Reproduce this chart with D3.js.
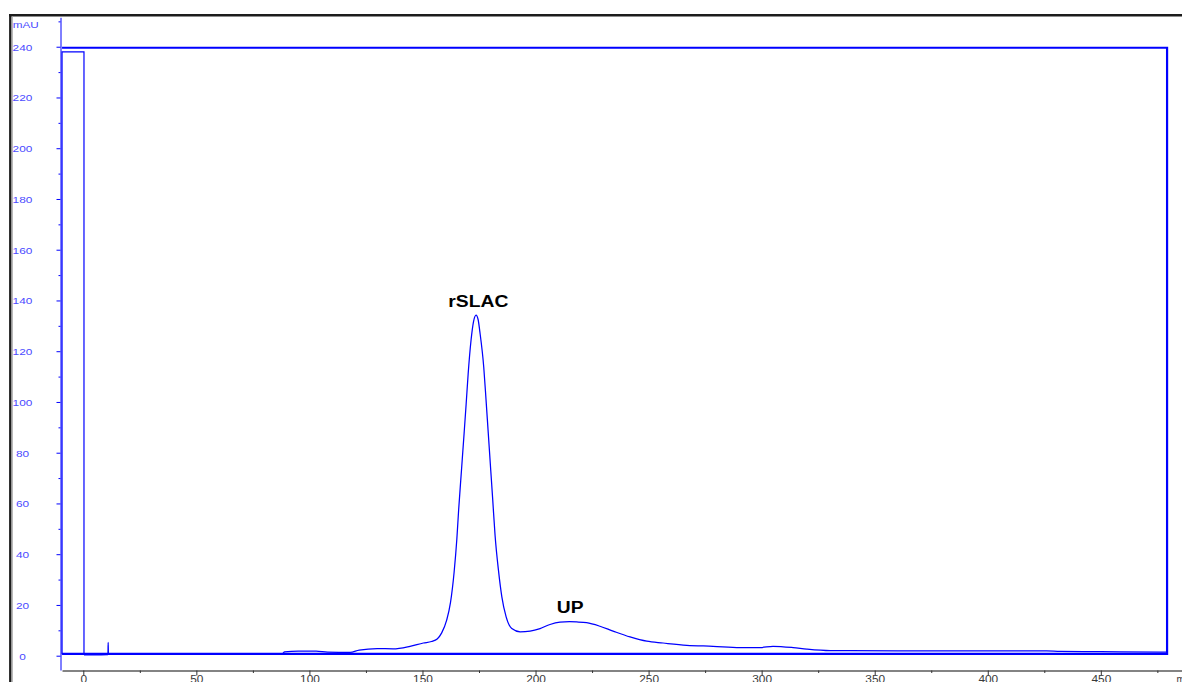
<!DOCTYPE html>
<html>
<head>
<meta charset="utf-8">
<script src="https://cdn.jsdelivr.net/npm/d3@7"></script>
<style>
  html, body { margin: 0; padding: 0; background: #fff; }
  svg { display: block; font-family: "Liberation Sans", Arial, sans-serif; }
</style>
</head>
<body>
<svg id="chart" width="1182" height="682"></svg>
<script>
// Retention time (min) and absorbance (mAU) of the UV trace
const time = [0.3, 5, 10.9, 11.0, 11.1, 20, 40, 60, 80, 88, 89, 95, 103, 108, 118, 122, 130, 137,
  144.5, 150.4, 154, 156.5, 158.5, 160.7, 162.4, 164, 165.2, 166, 167.2, 168.4, 169.3, 170.2,
  171.5, 172.6, 173.7, 174.6, 175.4, 177.1, 178.1, 179, 180.2, 181.1, 182.1, 183.6, 185.1, 187,
  189.5, 193.2, 197.6, 202, 206.4, 210.8, 215, 218.2, 222.6, 228.5, 234.3, 241.8, 249.2, 256.4,
  266.9, 278.5, 290.4, 299.3, 305, 313.9, 320, 330.3, 360, 400, 426, 432, 450, 476, 479];
const absorbance = [0.3, 0.3, 0.4, 5.2, 0.7, 0.7, 0.6, 0.6, 0.5, 0.7, 1.5, 1.8, 1.8, 1.4, 1.3, 2.2, 2.8, 2.7,
  3.7, 5.0, 5.6, 6.6, 9.0, 14.0, 21.0, 33.0, 46.0, 57.5, 72.5, 87.5, 99.0, 111.0,
  124.5, 131.8, 134.2, 132.5, 127.5, 113.7, 101.0, 89.0, 73.0, 61.0, 47.5, 33.7, 23.2, 15.3,
  10.7, 9.4, 9.7, 10.7, 12.3, 13.2, 13.4, 13.3, 13.0, 11.6, 9.7, 7.4, 5.7, 5.0,
  4.1, 3.7, 3.2, 3.2, 3.7, 3.2, 2.6, 2.0, 1.9, 1.9, 1.9, 1.7, 1.6, 1.4, 1.4];

// Over-range signal before injection
const injectTime = [-9.4, -9.4, 0.3, 0.3];
const injectValue = [0.6, 238.0, 238.0, 0.3];

// Second channel: full-scale box trace
const channelTime = [-9.4, 479.3, 479.3, -9.4];
const channelValue = [239.6, 239.6, 0.7, 0.7];

// Axis ticks
const yTicks = [0, 20, 40, 60, 80, 100, 120, 140, 160, 180, 200, 220, 240];
const yMinor = [10, 30, 50, 70, 90, 110, 130, 150, 170, 190, 210, 230, 250];
const xTicks = [0, 50, 100, 150, 200, 250, 300, 350, 400, 450];
const xMinor = [25, 75, 125, 175, 225, 275, 325, 375, 425, 475];

// Peak annotations
const peakNames = ["rSLAC", "UP"];
const peakTimes = [174.7, 215.3];
const peakLabelValues = [137.5, 17.0];

const svg = d3.select("#chart");
const x = d3.scaleLinear().domain([-9.42, 485.9]).range([62, 1182]);
const y = d3.scaleLinear().domain([-5.64, 251.6]).range([670, 17.3]);

const BLUE = "#0000ff";
const LABEL_BLUE = "#4b4bff";

// window frame
svg.append("line").attr("x1", 9).attr("x2", 1182).attr("y1", 15.2).attr("y2", 15.2)
  .attr("stroke", "#1c1c1c").attr("stroke-width", 2.4);
svg.append("line").attr("x1", 10.3).attr("x2", 10.3).attr("y1", 14).attr("y2", 682)
  .attr("stroke", "#1c1c1c").attr("stroke-width", 2.4);
svg.append("line").attr("x1", 12.2).attr("x2", 12.2).attr("y1", 16.5).attr("y2", 682)
  .attr("stroke", "#a8a8a8").attr("stroke-width", 1.2);

// y axis
const yAxis = svg.append("g").attr("transform", "translate(60.5,0)");
yAxis.call(d3.axisLeft(y).tickValues(yTicks).tickSize(4).tickSizeOuter(0).tickFormat(d3.format("d")));
yAxis.select(".domain").attr("stroke", BLUE).attr("stroke-width", 1);
yAxis.selectAll(".tick line").attr("stroke", BLUE);
yAxis.selectAll(".tick text")
  .attr("x", -38).attr("dy", "0.35em")
  .attr("text-anchor", "middle")
  .attr("fill", LABEL_BLUE)
  .style("font-size", "9.8px")
  .attr("textLength", d => String(d).length * 6.6)
  .attr("lengthAdjust", "spacingAndGlyphs");
const yMinorAxis = svg.append("g").attr("transform", "translate(60.5,0)");
yMinorAxis.call(d3.axisLeft(y).tickValues(yMinor).tickSize(2).tickSizeOuter(0).tickFormat(""));
yMinorAxis.select(".domain").remove();
yMinorAxis.selectAll(".tick line").attr("stroke", BLUE);

svg.append("text").attr("x", 12.7).attr("y", 27.5)
  .attr("fill", LABEL_BLUE).style("font-size", "9.8px")
  .attr("textLength", 26).attr("lengthAdjust", "spacingAndGlyphs")
  .text("mAU");

// x axis
const xAxis = svg.append("g").attr("transform", "translate(0,670.5)");
xAxis.call(d3.axisBottom(x).tickValues(xTicks).tickSize(5).tickSizeOuter(0).tickFormat(d3.format("d")));
xAxis.select(".domain").attr("stroke", "#5a5a5a").attr("stroke-width", 1.5);
xAxis.selectAll(".tick line").attr("stroke", "#333");
xAxis.selectAll(".tick text")
  .attr("y", 12.6).attr("dy", 0)
  .attr("fill", "#3a3a3a")
  .style("font-size", "10px")
  .attr("textLength", d => String(d).length * 6.6)
  .attr("lengthAdjust", "spacingAndGlyphs");
const xMinorAxis = svg.append("g").attr("transform", "translate(0,670.5)");
xMinorAxis.call(d3.axisBottom(x).tickValues(xMinor).tickSize(2.5).tickSizeOuter(0).tickFormat(""));
xMinorAxis.select(".domain").remove();
xMinorAxis.selectAll(".tick line").attr("stroke", "#333");

svg.append("text").attr("x", 1176.5).attr("y", 683.1)
  .attr("fill", "#3a3a3a").style("font-size", "10px").text("min");

// second channel box
const channelLine = d3.line().x(d => x(d[0])).y(d => y(d[1]));
svg.append("path")
  .datum(d3.zip(channelTime, channelValue))
  .attr("d", channelLine)
  .attr("fill", "none").attr("stroke", BLUE).attr("stroke-width", 2.2)
  .attr("stroke-linejoin", "miter");

// injection over-range segment
svg.append("path")
  .datum(d3.zip(injectTime, injectValue))
  .attr("d", channelLine)
  .attr("fill", "none").attr("stroke", BLUE).attr("stroke-width", 1.2);

// chromatogram
const traceLine = d3.line().x(d => x(d[0])).y(d => y(d[1])).curve(d3.curveMonotoneX);
svg.append("path")
  .datum(d3.zip(time, absorbance))
  .attr("d", traceLine)
  .attr("fill", "none").attr("stroke", BLUE).attr("stroke-width", 1.25);

// peak labels
const labelWidths = [60, 26.7];
svg.selectAll(".peak-label")
  .data(peakNames)
  .join("text")
  .attr("class", "peak-label")
  .attr("x", (d, i) => x(peakTimes[i]))
  .attr("y", (d, i) => y(peakLabelValues[i]))
  .attr("text-anchor", "middle")
  .attr("fill", "#000")
  .style("font-size", "16px").style("font-weight", "bold")
  .attr("textLength", (d, i) => labelWidths[i])
  .attr("lengthAdjust", "spacingAndGlyphs")
  .text(d => d);
</script>
</body>
</html>
